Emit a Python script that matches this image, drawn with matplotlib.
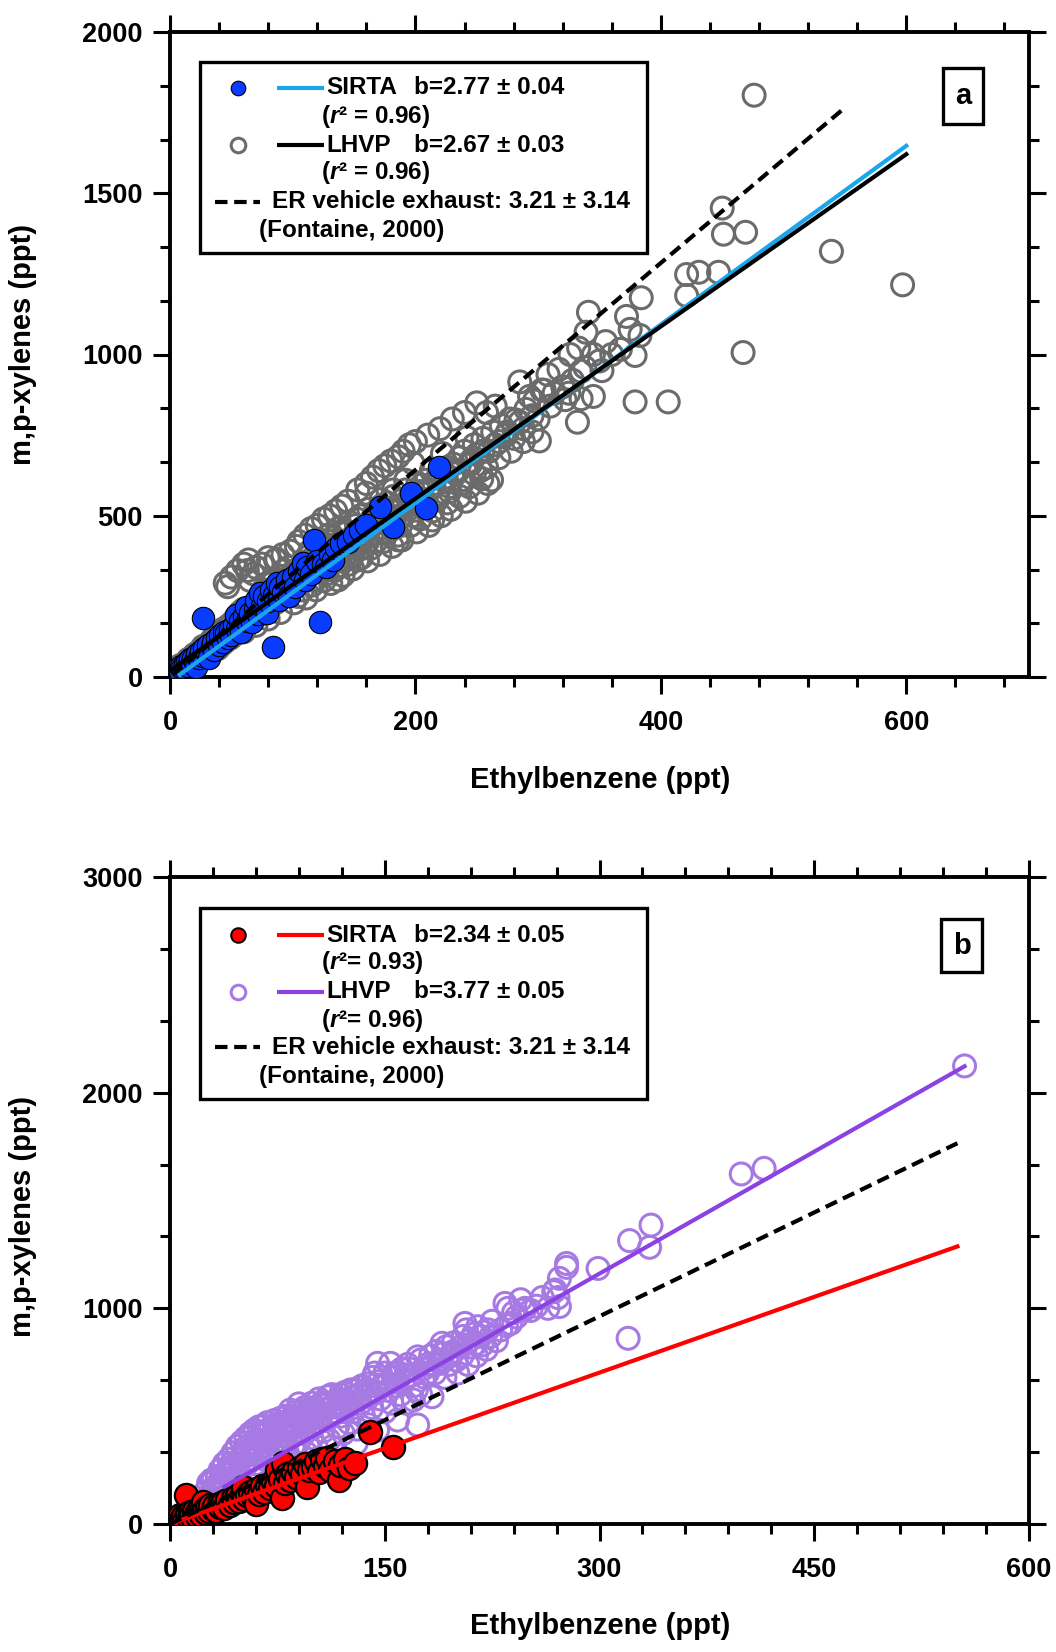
import matplotlib
matplotlib.use("Agg")
import matplotlib.pyplot as plt
import matplotlib.patches as patches
from matplotlib.ticker import MultipleLocator

plt.rcParams['font.family'] = ['Liberation Sans', 'DejaVu Sans']
plt.rcParams['font.weight'] = 'bold'
plt.rcParams['mathtext.fontset'] = 'custom'
plt.rcParams['mathtext.it'] = 'Liberation Sans:bold:italic'
plt.rcParams['mathtext.rm'] = 'Liberation Sans:bold'

# ---------------- Panel a data ----------------
lhvp_a_x = [6, 8, 10, 11, 12, 14, 15, 16, 18, 19, 20, 21, 22, 24, 25, 26, 27, 28, 30, 31, 32, 33, 34, 35, 36, 37, 38, 39, 40, 41, 42,
            43, 44, 45, 46, 47, 48, 49, 50, 51, 52, 53, 54, 55, 56, 57, 58, 59, 60, 61, 62, 63, 64, 65, 66, 67, 68, 69, 70, 71, 72, 73, 74, 75, 76, 77, 78, 79, 80,
            81, 82, 83, 84, 85, 86, 87, 88, 89, 90, 91, 92, 93, 94, 95, 96, 97, 98, 99, 100,
            102, 103, 104, 105, 107, 108, 110, 111, 113, 114, 116, 117, 119, 120, 122, 123, 125, 126, 128, 129, 131, 132, 134, 135, 137, 138, 140, 141, 143, 144,
            146, 147, 149, 150, 152, 153, 155, 156, 158, 160, 161, 163, 165, 167, 168, 170, 172, 173, 175, 177, 178, 180,
            182, 183, 185, 186, 188, 190, 192, 194, 196, 198, 200, 202, 204, 205, 207, 209, 211, 213, 215, 217, 219, 222, 224, 226, 228, 231, 233, 236, 238, 240,
            242, 245, 248, 250, 253, 255, 258, 260, 262, 263, 265, 268, 270,
            274, 277, 280, 282, 285, 288, 290, 293, 295, 297, 300, 301, 303, 305, 308, 310, 313, 317, 320, 322, 326, 328, 333, 335, 335, 338, 339, 341,
            332, 345, 352, 325, 345, 350, 355, 360,
            367, 372, 375, 379, 379, 383, 384, 406, 421, 421, 431, 447, 450, 451, 469, 467, 476, 539, 597,
            101, 104, 111, 116, 119, 126, 131, 134, 141, 146, 149, 156, 161, 164, 171, 174, 181, 186, 189, 196, 201, 204, 211, 214, 221, 226,
            229, 236, 241, 244, 251, 254, 259, 90, 80, 70, 60, 137, 153, 186, 214,
            45, 50, 55, 60, 64, 70, 75, 80, 86, 92, 98, 105, 110, 115, 120, 125, 130, 135, 140, 145, 153, 160, 165, 170, 175, 180, 190, 195,
            200, 210, 220, 230, 240, 250,
            55, 65, 75, 85, 95, 105, 115, 125, 135, 145, 155, 165, 175, 185, 195, 205, 215, 225, 235, 245, 255, 265, 275, 285, 295,
            108, 118, 128, 138, 148, 158, 168, 178, 188, 198, 208, 218, 228, 238, 248, 258, 268, 278, 288,
            62, 72, 82, 92, 102, 112, 122, 132, 142, 152, 162, 172, 182, 192]
lhvp_a_y = [20, 35, 22, 40, 30, 45, 55, 38, 60, 48, 70, 52, 65, 80, 58, 75, 95, 68, 85, 100, 78, 110, 90, 120, 95, 105, 130, 88, 115, 140, 100,
            125, 150, 110, 135, 280, 160, 120, 145, 170, 130, 155, 185, 140, 165, 200, 150, 175, 210, 160, 190, 330, 170, 300, 200, 180, 320, 215, 190, 230, 205, 250, 195, 225, 270, 210, 240, 290, 220,
            255, 235, 300, 250, 270, 230, 365, 260, 285, 245, 310, 270, 330, 255, 290, 275, 340, 265, 300, 280,
            320, 405, 290, 335, 300, 350, 310, 370, 325, 390, 340, 300, 360, 420, 345, 380, 330, 400, 365, 440, 350, 390, 410, 370, 460, 385, 420, 360, 445, 400,
            480, 415, 380, 440, 470, 410, 500, 430, 455, 570, 420, 480, 445, 510, 460, 490, 530, 450, 500, 540, 470, 515,
            560, 490, 530, 683, 500, 550, 580, 520, 560, 663, 540, 600, 575, 595, 550, 610, 580, 640, 600, 560, 630, 693, 610, 650, 590, 660, 630, 680, 610, 700,
            742, 660, 720, 690, 640, 740, 820, 700, 611, 760, 840, 730, 780,
            750, 800, 740, 797, 915, 770, 830, 870, 760, 856, 800, 732, 890, 889, 938, 840, 880, 954, 900, 860, 1000, 920, 1020, 948, 863, 960, 1069, 1131,
            790, 870, 950, 880, 1000, 980, 1040, 1000,
            1016, 1118, 1078, 997, 853, 1059, 1176, 853, 1183, 1248, 1255, 1255, 1454, 1373, 1379, 1006, 1804, 1320, 1216,
            230, 250, 245, 285, 270, 300, 290, 330, 315, 350, 335, 370, 360, 400, 380, 420, 405, 440, 425, 470, 450, 490, 470, 515, 500, 540,
            520, 560, 545, 590, 570, 615, 600, 200, 180, 160, 140, 301, 363, 425, 487,
            291, 310, 330, 350, 363, 340, 350, 370, 363, 380, 390, 420, 440, 460, 470, 490, 500, 515, 530, 545, 580, 600, 620, 640, 655, 670, 700, 720,
            730, 750, 770, 800, 820, 850,
            160, 190, 230, 250, 270, 300, 330, 360, 390, 410, 440, 470, 480, 520, 550, 570, 590, 620, 640, 670, 700, 720, 760, 790, 810,
            270, 300, 320, 345, 370, 400, 420, 450, 470, 500, 525, 550, 575, 600, 630, 650, 680, 700, 730,
            210, 240, 270, 300, 330, 355, 390, 420, 450, 490, 520, 550, 580, 610]

sirta_a_x = [3, 5, 6, 8, 9, 10, 12, 13, 14, 15, 16, 18, 19, 20, 21, 22, 24, 25, 27, 27, 28, 30, 31, 32, 34, 35, 36, 38, 40, 41, 43, 44, 46, 47, 49, 50,
             52, 54, 55, 57, 58, 60, 62, 63, 65, 67, 69, 70, 72, 73, 75, 77, 79, 80, 82, 84, 85, 87, 89, 90, 92, 95, 97, 100, 102, 105, 108, 110, 112, 115,
             117, 120, 122, 125, 127, 130, 133, 135, 139, 145, 150, 155, 160, 171, 182, 196, 209, 219]
sirta_a_y = [10, 15, 25, 18, 35, 28, 40, 22, 45, 35, 55, 42, 60, 50, 30, 70, 58, 80, 182, 65, 90, 75, 100, 60, 95, 110, 85, 120, 100, 130, 110, 140, 135, 120, 150, 130,
             160, 193, 150, 175, 140, 190, 218, 175, 200, 170, 210, 240, 195, 260, 220, 250, 200, 235, 270, 94, 255, 290, 240, 280, 265, 300, 250, 310, 280, 330, 353, 300, 340, 320,
             425, 360, 171, 350, 340, 380, 363, 400, 415, 420, 440, 456, 470, 528, 466, 570, 523, 652]

# fits panel a
sirta_a_fit_x = [8, 600]
sirta_a_slope, sirta_a_icpt = 2.77, -15
lhvp_a_fit_x = [0, 600]
lhvp_a_slope, lhvp_a_icpt = 2.67, 19
er_fit_x = [2, 551]
er_slope = 3.21

# ---------------- Panel b data ----------------
lhvp_b_x = [25, 27, 28, 30, 31, 32, 33, 34, 35, 36, 37, 38, 39, 40, 41, 42, 43, 44, 45, 46, 47, 48, 49, 50, 51, 52, 53, 54, 55, 56, 57, 58, 59, 60,
            61, 62, 63, 64, 65, 66, 67, 68, 69, 70, 72, 73, 74, 75, 76, 77, 78, 79, 80, 81, 82, 83, 84, 85, 86, 87, 88, 89, 90, 91, 92, 93, 94, 95, 96, 97,
            98, 99, 100, 101, 102, 104, 105, 106, 108, 109, 110, 112, 113, 115, 116, 118, 119, 120, 122, 124, 126, 128, 130, 130,
            132, 134, 136, 138, 140, 142, 144, 146, 148, 150, 152, 154, 156, 158, 160, 162, 164, 166, 168, 170, 172, 173, 175, 177, 180, 182, 184, 186,
            189, 191, 193, 196, 198, 200, 203, 205, 207, 209, 212, 214, 215, 217, 219, 222, 225,
            234, 235, 236, 240, 247, 248, 268, 269, 271, 272, 272, 277, 277, 299, 320, 321, 335, 336, 399, 415, 555,
            29, 29, 32, 35, 38, 41, 43, 45, 48, 50, 52, 55, 55, 57, 58, 60, 62, 64, 66, 68, 70, 71, 73, 74, 76, 78, 80, 82, 84, 86, 88, 89, 90,
            92, 94, 95, 97, 99, 100, 102, 104, 106, 107, 109, 111, 113, 114, 117, 119, 121, 123, 125, 127, 128, 131, 133, 135, 137, 139, 141,
            143, 145, 145, 147, 150, 153, 155, 157, 159, 161, 163, 165, 167, 170, 173, 175, 178, 180, 183, 185, 188, 190, 192, 195, 198, 201,
            204, 206, 208, 211, 214, 218, 221, 224, 228, 231, 238, 242, 245, 252, 256, 260, 264]
lhvp_b_y = [150, 190, 130, 200, 170, 140, 220, 185, 250, 160, 210, 280, 190, 240, 300, 200, 260, 330, 220, 280, 360, 240, 300, 380, 260, 330, 400, 280, 350, 420, 300, 370, 436, 320,
            390, 450, 340, 410, 455, 360, 430, 470, 380, 440, 400, 480, 420, 460, 390, 490, 430, 470, 410, 500, 450, 480, 528, 440, 500, 470, 520, 460, 557, 490, 520, 482, 540, 500, 470, 530,
            510, 560, 490, 540, 520, 580, 500, 550, 530, 559, 590, 540, 600, 560, 520, 580, 600, 555, 610, 570, 621, 590, 374, 620,
            600, 640, 590, 650, 620, 680, 610, 660, 640, 700, 650, 745, 680, 640, 700, 720, 670, 740, 690, 575, 621, 459, 760, 720, 700, 780, 740, 800,
            745, 790, 822, 780, 840, 760, 820, 870, 900, 850, 880, 837, 915, 870, 890, 900, 940,
            1023, 920, 1000, 980, 992, 1000, 1077, 1085, 1050, 1139, 1008, 1190, 1208, 1185, 861, 1314, 1283, 1386, 1623, 1649, 2124,
            204, 148, 170, 200, 230, 260, 282, 250, 220, 300, 350, 190, 300, 405, 250, 280, 330, 380, 300, 340, 290, 410, 451, 350, 310, 380, 440, 330, 400, 360, 430, 282, 380,
            460, 420, 330, 480, 400, 450, 360, 500, 560, 430, 480, 390, 358, 520, 450, 500, 420, 540, 470, 621, 520, 440, 560, 500, 600, 460, 540,
            700, 436, 745, 580, 520, 620, 560, 700, 482, 600, 660, 560, 720, 640, 775, 600, 680, 740, 590, 700, 760, 838, 680, 740, 800, 700,
            780, 930, 740, 820, 780, 830, 810, 870, 850, 900, 930, 960, 1040, 990, 1010, 1050, 1000]

sirta_b_x = [2, 3, 4, 5, 6, 7, 8, 9, 10, 11, 12, 13, 14, 15, 16, 17, 18, 19, 20, 21, 22, 23, 24, 25, 26, 27, 28, 30, 31, 32, 34, 35, 37, 38, 40,
             42, 44, 45, 47, 48, 50, 51, 52, 54, 56, 58, 60, 60, 62, 64, 66, 68, 70, 72, 74, 75, 77, 78, 79, 80, 82, 84, 86, 88, 90, 92, 94, 96, 97,
             100, 102, 104, 106, 108, 110, 112, 115, 118, 119, 122, 125, 129, 140, 156]
sirta_b_y = [5, 15, 30, 10, 25, 40, 20, 35, 15, 134, 45, 30, 55, 40, 25, 60, 45, 35, 70, 55, 40, 100, 65, 50, 80, 60, 90, 70, 85, 60, 95, 80, 100, 75, 110,
             90, 120, 100, 130, 105, 140, 173, 115, 135, 150, 125, 95, 160, 140, 175, 150, 180, 165, 200, 175, 250, 210, 119, 281, 190, 230, 205, 240, 220, 260, 230, 280, 173, 250,
             265, 290, 240, 300, 270, 304, 250, 290, 204, 275, 300, 260, 281, 428, 358]

sirta_b_fit_x = [0, 550]
sirta_b_slope, sirta_b_icpt = 2.34, 0
lhvp_b_fit_x = [38, 555]
lhvp_b_slope, lhvp_b_icpt = 3.77, 30
er_b_fit_x = [0, 550]

# ---------------- colours ----------------
BLUE = '#0a3cff'
CYAN = '#1aa6ea'
GRAY = '#6b6b6b'
RED = '#ff0000'
PURPLE_PT = '#a77ae3'
PURPLE_LN = '#8c42e3'

W, H = 1056, 1652
fig = plt.figure(figsize=(W / 100, H / 100), dpi=100)

A_BOX = (170, 32, 1029, 677)
B_BOX = (170, 877, 1029, 1524)


def make_axes(box):
    l, t, r, b = box
    return fig.add_axes([l / W, 1 - b / H, (r - l) / W, (b - t) / H])


def style_axes(ax):
    for s in ax.spines.values():
        s.set_linewidth(2.8)
    ax.tick_params(which='both', direction='out', top=True, right=True, width=2.2)
    ax.tick_params(which='major', length=12.5, labelsize=19.5)
    ax.tick_params(which='minor', length=7)
    ax.tick_params(axis='x', which='major', pad=11)
    ax.tick_params(axis='y', which='major', pad=7)
    for lab in ax.get_xticklabels() + ax.get_yticklabels():
        lab.set_fontweight('bold')


def line(ax, xs, slope, icpt, **kw):
    ys = [slope * x + icpt for x in xs]
    ax.plot(xs, ys, **kw)


def draw_legend(ax, box, legbox, rows, label):
    l, t, r, b = box
    def fx(px):
        return (px - l) / (r - l)
    def fy(py):
        return (b - py) / (b - t)
    x0, y0, x1, y1 = legbox
    ax.add_patch(patches.Rectangle((fx(x0), fy(y1)), fx(x1) - fx(x0), fy(y0) - fy(y1),
                                   transform=ax.transAxes, facecolor='white', edgecolor='black',
                                   lw=2.4, zorder=20, clip_on=False))
    fs = 17.5
    for row in rows:
        kind = row['kind']
        yy = fy(row['y'])
        if kind == 'series':
            ax.plot([fx(238)], [yy], marker='o', ms=row['ms'], mfc=row['mfc'], mec=row['mec'],
                    mew=row['mew'], transform=ax.transAxes, zorder=21, clip_on=False, ls='none')
            ax.plot([fx(277), fx(324)], [yy, yy], color=row['lc'], lw=3.0,
                    transform=ax.transAxes, zorder=21, clip_on=False, solid_capstyle='butt')
            ax.text(fx(326), yy, row['name'], transform=ax.transAxes, fontsize=fs, fontweight='bold',
                    ha='left', va='center', zorder=22)
            ax.text(fx(414), yy, row['b'], transform=ax.transAxes, fontsize=fs, fontweight='bold',
                    ha='left', va='center', zorder=22)
        elif kind == 'r2':
            ax.text(fx(321), yy, row['text'], transform=ax.transAxes, fontsize=fs, fontweight='bold',
                    ha='left', va='center', zorder=22)
        elif kind == 'er':
            ax.plot([fx(215), fx(260)], [yy, yy], color='black', lw=3.0, ls=(0, (3.0, 1.6)),
                    transform=ax.transAxes, zorder=21, clip_on=False, dash_capstyle='butt')
            ax.text(fx(272), yy, 'ER vehicle exhaust: 3.21 ± 3.14', transform=ax.transAxes,
                    fontsize=fs, fontweight='bold', ha='left', va='center', zorder=22)
        elif kind == 'ref':
            ax.text(fx(259), yy, '(Fontaine, 2000)', transform=ax.transAxes, fontsize=fs,
                    fontweight='bold', ha='left', va='center', zorder=22)
    lx0, ly0, lx1, ly1, ltxt = label
    ax.add_patch(patches.Rectangle((fx(lx0), fy(ly1)), fx(lx1) - fx(lx0), fy(ly0) - fy(ly1),
                                   transform=ax.transAxes, facecolor='white', edgecolor='black',
                                   lw=2.4, zorder=20, clip_on=False))
    ax.text((fx(lx0) + fx(lx1)) / 2, (fy(ly0) + fy(ly1)) / 2, ltxt, transform=ax.transAxes,
            fontsize=21, fontweight='bold', ha='center', va='center', zorder=22)


# ---------------- Panel a ----------------
axa = make_axes(A_BOX)
axa.scatter(lhvp_a_x, lhvp_a_y, s=250, facecolors='none', edgecolors=GRAY, linewidths=2.2, zorder=2)
axa.scatter(sirta_a_x, sirta_a_y, s=260, facecolors=BLUE, edgecolors='black', linewidths=0.8, zorder=3)
line(axa, sirta_a_fit_x, sirta_a_slope, sirta_a_icpt, color=CYAN, lw=3.0, zorder=4)
line(axa, lhvp_a_fit_x, lhvp_a_slope, lhvp_a_icpt, color='black', lw=3.0, zorder=5)
line(axa, er_fit_x, er_slope, 0, color='black', lw=3.0, ls=(0, (3.0, 1.6)), zorder=6)
axa.set_xlim(0, 700)
axa.set_ylim(0, 2000)
axa.xaxis.set_major_locator(MultipleLocator(200))
axa.xaxis.set_minor_locator(MultipleLocator(40))
axa.yaxis.set_major_locator(MultipleLocator(500))
axa.yaxis.set_minor_locator(MultipleLocator(500 / 3))
style_axes(axa)
draw_legend(axa, A_BOX, (200, 62, 647, 253), [
    dict(kind='series', y=88, ms=10.5, mfc=BLUE, mec='black', mew=0.8, lc=CYAN,
         name='SIRTA', b='b=2.77 ± 0.04'),
    dict(kind='r2', y=117, text='($r$² = 0.96)'),
    dict(kind='series', y=145, ms=10.5, mfc='white', mec=GRAY, mew=2.2, lc='black',
         name='LHVP', b='b=2.67 ± 0.03'),
    dict(kind='r2', y=173, text='($r$² = 0.96)'),
    dict(kind='er', y=202),
    dict(kind='ref', y=230),
], (943, 68, 983, 124, 'a'))

# ---------------- Panel b ----------------
axb = make_axes(B_BOX)
axb.scatter(lhvp_b_x, lhvp_b_y, s=250, facecolors='none', edgecolors=PURPLE_PT, linewidths=2.2, zorder=2)
axb.scatter(sirta_b_x, sirta_b_y, s=280, facecolors=RED, edgecolors='black', linewidths=1.6, zorder=3)
line(axb, sirta_b_fit_x, sirta_b_slope, sirta_b_icpt, color=RED, lw=3.0, zorder=4)
line(axb, lhvp_b_fit_x, lhvp_b_slope, lhvp_b_icpt, color=PURPLE_LN, lw=3.0, zorder=5)
line(axb, er_b_fit_x, er_slope, 0, color='black', lw=3.0, ls=(0, (3.0, 1.6)), zorder=6)
axb.set_xlim(0, 600)
axb.set_ylim(0, 3000)
axb.xaxis.set_major_locator(MultipleLocator(150))
axb.xaxis.set_minor_locator(MultipleLocator(30))
axb.yaxis.set_major_locator(MultipleLocator(1000))
axb.yaxis.set_minor_locator(MultipleLocator(1000 / 3))
style_axes(axb)
draw_legend(axb, B_BOX, (200, 908, 647, 1099), [
    dict(kind='series', y=935, ms=10.5, mfc=RED, mec='black', mew=1.4, lc=RED,
         name='SIRTA', b='b=2.34 ± 0.05'),
    dict(kind='r2', y=963, text='($r$²= 0.93)'),
    dict(kind='series', y=992, ms=10.5, mfc='white', mec=PURPLE_PT, mew=2.2, lc=PURPLE_LN,
         name='LHVP', b='b=3.77 ± 0.05'),
    dict(kind='r2', y=1020, text='($r$²= 0.96)'),
    dict(kind='er', y=1047),
    dict(kind='ref', y=1076),
], (941, 919, 982, 972, 'b'))

# axis labels
for yc in (344, 1216):
    fig.text(23 / W, 1 - yc / H, 'm,p-xylenes (ppt)', rotation=90, ha='center', va='center',
             fontsize=21, fontweight='bold')
for yc in (780, 1626):
    fig.text(600 / W, 1 - yc / H, 'Ethylbenzene (ppt)', ha='center', va='center',
             fontsize=21, fontweight='bold')

fig.savefig('out.png', dpi=100)
